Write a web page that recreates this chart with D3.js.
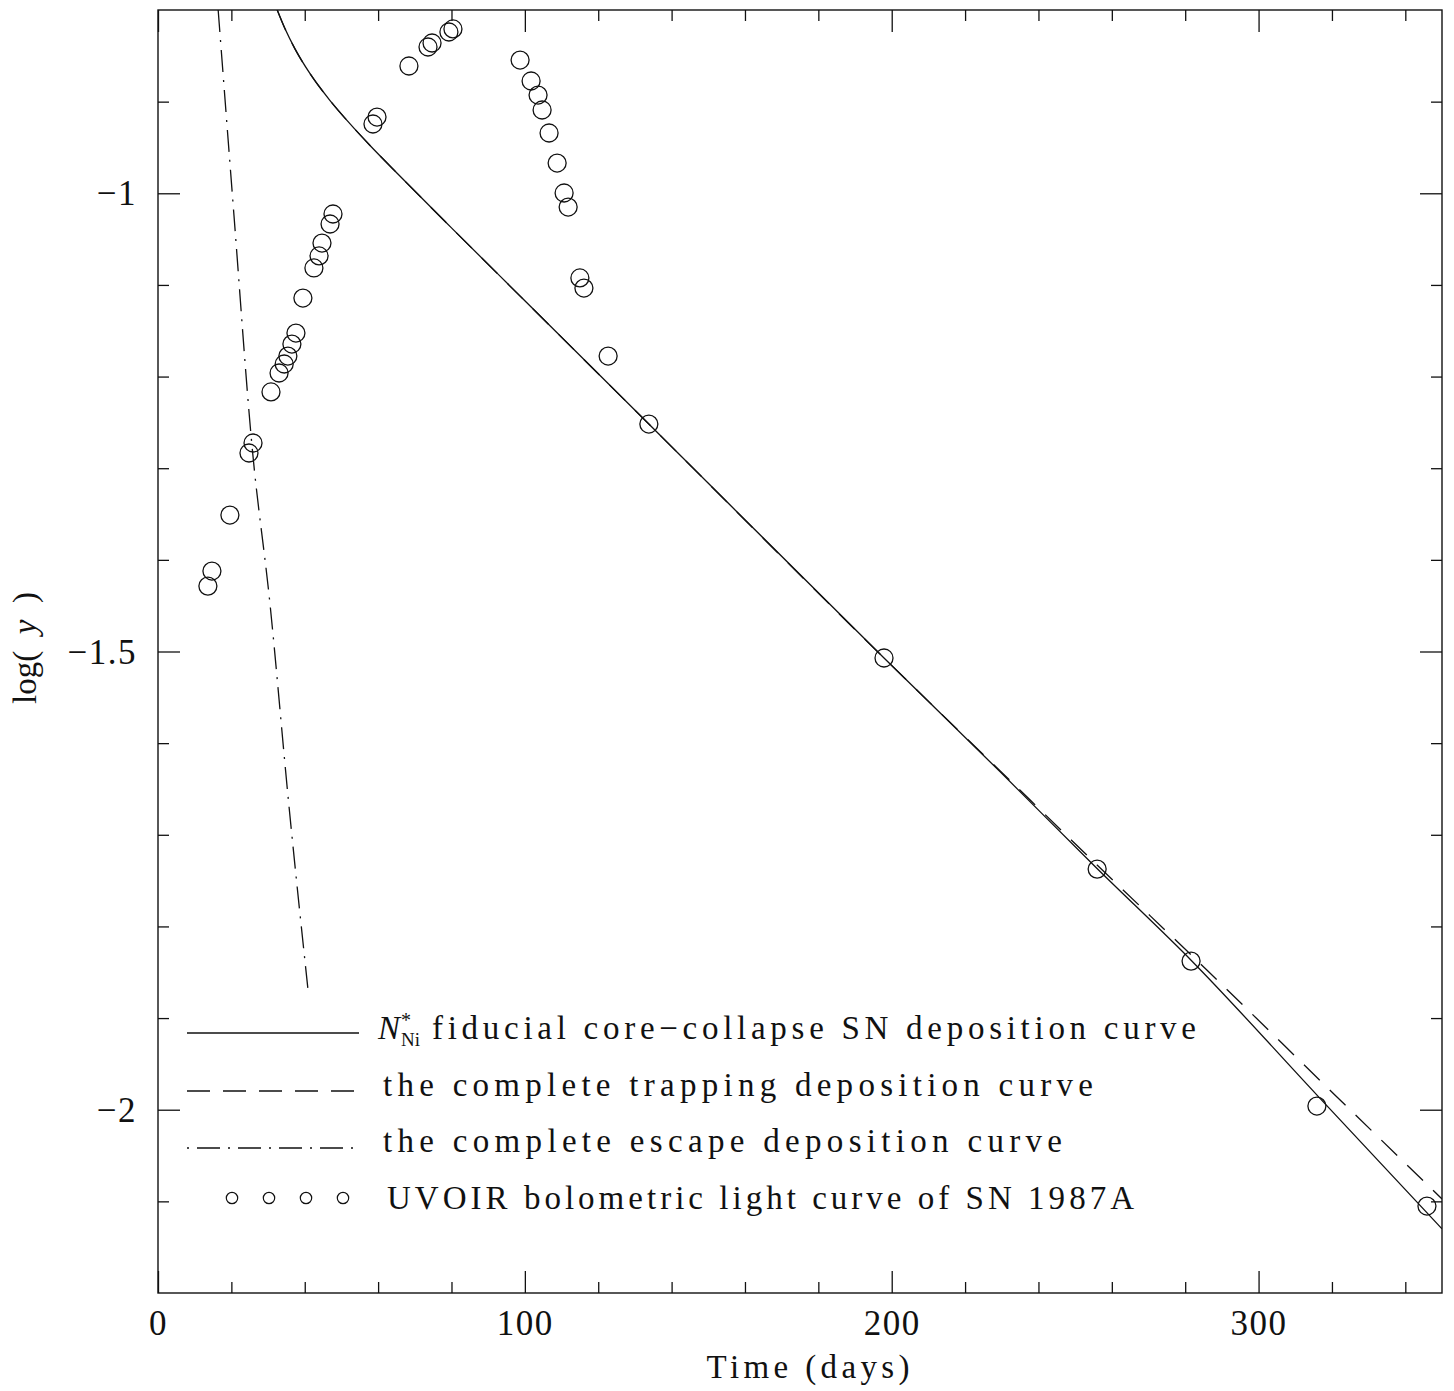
<!DOCTYPE html>
<html>
<head>
<meta charset="utf-8">
<script src="https://cdn.jsdelivr.net/npm/d3@7"></script>
<style>
  html, body { margin: 0; padding: 0; background: #fff; }
  svg { display: block; font-family: "Liberation Serif", "DejaVu Serif", serif; }
</style>
</head>
<body>
<svg id="chart" width="1454" height="1391"></svg>
<script>
// ---------------- DATA ----------------
// UVOIR bolometric light curve of SN 1987A (days, log y)
const obsDays = [13.6, 14.7, 19.6, 24.8, 25.9, 30.8, 33.0, 34.4, 35.4, 36.5, 37.6, 39.5, 42.5, 43.9, 44.7, 46.9, 47.7,
  58.6, 59.7, 68.4, 73.6, 74.7, 79.3, 80.4, 98.7, 101.7, 103.6, 104.7, 106.6, 108.8, 110.7, 111.8, 115.0, 116.1,
  122.7, 133.8, 197.9, 256.0, 281.6, 315.9, 345.9];
const obsLogY = [-1.4286, -1.4122, -1.3511, -1.2834, -1.2725, -1.2168, -1.1961, -1.1863, -1.1776, -1.1645, -1.1525,
  -1.1143, -1.0815, -1.0684, -1.0543, -1.0335, -1.0226, -0.9244, -0.9168, -0.8611, -0.8404, -0.8360, -0.8240, -0.8207,
  -0.8546, -0.8775, -0.8928, -0.9091, -0.9342, -0.9670, -0.9997, -1.0150, -1.0924, -1.1034, -1.1776, -1.2518,
  -1.5071, -1.7374, -1.8378, -1.9960, -2.1051];

// N*_Ni fiducial core-collapse SN deposition curve
const fiducialDays = [32.5, 34.6, 37.3, 41.4, 46.9, 52.3, 57.8, 66.0, 80.0, 100.0, 133.8, 197.9,
  229.5, 255.9, 282.0, 315.8, 350.0];
const fiducialLogY = [-0.8000, -0.8203, -0.8421, -0.8692, -0.8988, -0.9240, -0.9478, -0.9814, -1.0377, -1.1173,
  -1.2518, -1.5071, -1.6310, -1.7366, -1.8385, -1.9835, -2.1300];

// complete trapping deposition curve
const trappingDays = [32.5, 34.6, 37.3, 41.4, 46.9, 52.3, 57.8, 66.0, 80.0, 100.0, 133.8, 197.9,
  229.5, 255.9, 285.9, 321.3, 350.0];
const trappingLogY = [-0.8000, -0.8203, -0.8421, -0.8692, -0.8988, -0.9240, -0.9478, -0.9814, -1.0377, -1.1173,
  -1.2518, -1.5071, -1.6300, -1.7326, -1.8476, -1.9858, -2.0974];

// complete escape deposition curve
const escapeDays = [16.4, 20.7, 25.6, 30.5, 35.7, 40.9];
const escapeLogY = [-0.8000, -1.0237, -1.2747, -1.4471, -1.6686, -1.8694];

// axes
const xMajorTicks = [0, 100, 200, 300];
const xTickLabels = ["0", "100", "200", "300"];
const xMinorTicks = [20, 40, 60, 80, 120, 140, 160, 180, 220, 240, 260, 280, 320, 340];
const yMajorTicks = [-2, -1.5, -1];
const yTickLabels = ["\u22122", "\u22121.5", "\u22121"];
const yMinorTicks = [-2.1, -1.9, -1.8, -1.7, -1.6, -1.4, -1.3, -1.2, -1.1, -0.9];

const legendLabels = [
  "fiducial core\u2212collapse SN deposition curve",
  "the complete trapping deposition curve",
  "the complete escape deposition curve",
  "UVOIR bolometric light curve of SN 1987A"
];

// ---------------- LAYOUT ----------------
const L = 158, R = 1442, T = 10, B = 1293;
const svg = d3.select("#chart");
const x = d3.scaleLinear().domain([0, 350]).range([L, R]);
const y = d3.scaleLinear().domain([-2.2, -0.8]).range([B, T]);

const ink = "#111";

svg.append("defs").append("clipPath").attr("id", "plotclip")
  .append("rect").attr("x", L).attr("y", T).attr("width", R - L).attr("height", B - T);

function styleAxis(g) {
  g.select(".domain").remove();
  g.selectAll("line").attr("stroke", ink).attr("stroke-width", 1.3);
  g.selectAll("text").attr("fill", ink);
}
const bottomMajor = svg.append("g").attr("transform", `translate(0,${B})`)
  .call(d3.axisBottom(x).tickValues(xMajorTicks).tickSize(-22).tickFormat((d, i) => xTickLabels[i]));
bottomMajor.call(styleAxis);
bottomMajor.selectAll("text").attr("y", 42).attr("dy", 0).attr("font-size", 35)
  .attr("font-family", "Liberation Serif").attr("letter-spacing", 1.5);
svg.append("g").attr("transform", `translate(0,${B})`)
  .call(d3.axisBottom(x).tickValues(xMinorTicks).tickSize(-11).tickFormat(""))
  .call(styleAxis);
svg.append("g").attr("transform", `translate(0,${T})`)
  .call(d3.axisTop(x).tickValues(xMajorTicks).tickSize(-22).tickFormat(""))
  .call(styleAxis);
svg.append("g").attr("transform", `translate(0,${T})`)
  .call(d3.axisTop(x).tickValues(xMinorTicks).tickSize(-11).tickFormat(""))
  .call(styleAxis);

const leftMajor = svg.append("g").attr("transform", `translate(${L},0)`)
  .call(d3.axisLeft(y).tickValues(yMajorTicks).tickSize(-22).tickPadding(21)
    .tickFormat((d, i) => yTickLabels[i]));
leftMajor.call(styleAxis);
leftMajor.selectAll("text").attr("font-size", 35).attr("font-family", "Liberation Serif")
  .attr("dy", "0.33em").attr("letter-spacing", 1.5);
svg.append("g").attr("transform", `translate(${L},0)`)
  .call(d3.axisLeft(y).tickValues(yMinorTicks).tickSize(-11).tickFormat(""))
  .call(styleAxis);
svg.append("g").attr("transform", `translate(${R},0)`)
  .call(d3.axisRight(y).tickValues(yMajorTicks).tickSize(-22).tickFormat(""))
  .call(styleAxis);
svg.append("g").attr("transform", `translate(${R},0)`)
  .call(d3.axisRight(y).tickValues(yMinorTicks).tickSize(-11).tickFormat(""))
  .call(styleAxis);

svg.append("rect").attr("x", L).attr("y", T).attr("width", R - L).attr("height", B - T)
  .attr("fill", "none").attr("stroke", ink).attr("stroke-width", 1.4);

// axis titles
svg.append("text").attr("x", 808).attr("y", 1378).attr("text-anchor", "middle")
  .attr("font-size", 33).attr("fill", ink).attr("textLength", 203).attr("lengthAdjust", "spacing")
  .text("Time (days)");
const ylab = svg.append("text").attr("transform", "translate(36,648) rotate(-90)")
  .attr("text-anchor", "middle").attr("font-size", 33).attr("fill", ink);
ylab.append("tspan").text("log(\u2002");
ylab.append("tspan").attr("font-style", "italic").text("y");
ylab.append("tspan").text("\u2002)");

// ---------------- CURVES ----------------
const plot = svg.append("g").attr("clip-path", "url(#plotclip)");
const line = d3.line().x(d => x(d[0])).y(d => y(d[1])).curve(d3.curveMonotoneX);

plot.append("path").datum(d3.zip(trappingDays, trappingLogY))
  .attr("d", line).attr("fill", "none").attr("stroke", ink).attr("stroke-width", 1.3)
  .attr("stroke-dasharray", "22,14");
plot.append("path").datum(d3.zip(fiducialDays, fiducialLogY))
  .attr("d", line).attr("fill", "none").attr("stroke", ink).attr("stroke-width", 1.3);
plot.append("path").datum(d3.zip(escapeDays, escapeLogY))
  .attr("d", line).attr("fill", "none").attr("stroke", ink).attr("stroke-width", 1.3)
  .attr("stroke-dasharray", "22,8,2,8");

plot.selectAll("circle.obs").data(d3.zip(obsDays, obsLogY)).join("circle")
  .attr("class", "obs")
  .attr("cx", d => x(d[0])).attr("cy", d => y(d[1])).attr("r", 9)
  .attr("fill", "none").attr("stroke", ink).attr("stroke-width", 1.3);

// ---------------- LEGEND ----------------
const lg = svg.append("g");
const lx0 = 187, lx1 = 359;
lg.append("line").attr("x1", lx0).attr("x2", lx1).attr("y1", 1033).attr("y2", 1033)
  .attr("stroke", ink).attr("stroke-width", 1.3);
lg.append("line").attr("x1", lx0).attr("x2", lx1).attr("y1", 1091).attr("y2", 1091)
  .attr("stroke", ink).attr("stroke-width", 1.3).attr("stroke-dasharray", "23,13");
lg.append("line").attr("x1", lx0).attr("x2", lx1).attr("y1", 1148).attr("y2", 1148)
  .attr("stroke", ink).attr("stroke-width", 1.3).attr("stroke-dasharray", "2,8,23,8");
[232, 269, 306, 343].forEach(cx => {
  lg.append("circle").attr("cx", cx).attr("cy", 1198).attr("r", 5.7)
    .attr("fill", "none").attr("stroke", ink).attr("stroke-width", 1.2);
});

lg.append("text").attr("x", 378).attr("y", 1039).attr("font-size", 33).attr("font-style", "italic")
  .attr("fill", ink).text("N");
lg.append("text").attr("x", 401).attr("y", 1027).attr("font-size", 20).attr("fill", ink).text("*");
lg.append("text").attr("x", 401).attr("y", 1046).attr("font-size", 19).attr("fill", ink).text("Ni");

const legendText = [
  {x: 432, y: 1039, len: 764},
  {x: 383, y: 1096, len: 710},
  {x: 383, y: 1152, len: 679},
  {x: 387, y: 1209, len: 747}
];
legendText.forEach((t, i) => {
  lg.append("text").attr("x", t.x).attr("y", t.y).attr("font-size", 33).attr("fill", ink)
    .attr("textLength", t.len).attr("lengthAdjust", "spacing").text(legendLabels[i]);
});
</script>
</body>
</html>
